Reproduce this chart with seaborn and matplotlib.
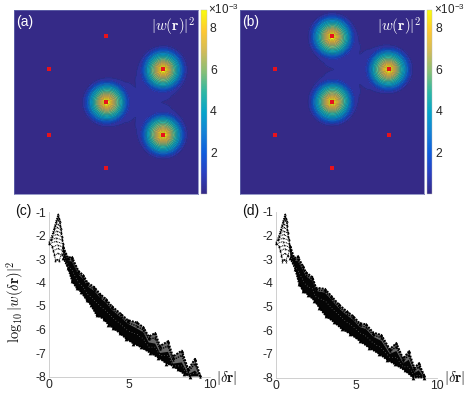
import numpy as np
import pandas as pd
import matplotlib
matplotlib.use("Agg")
import matplotlib.pyplot as plt
from matplotlib.colors import LinearSegmentedColormap, Normalize
from matplotlib.cm import ScalarMappable
import seaborn as sns

# ---------- data ----------
# lattice sites (hexagon plus centre, in units of the hexagon radius)
site_x = [0, 0.866, 0.866, 0, -0.866, -0.866, 0]
site_y = [0, 0.5, -0.5, 1, 0.5, -0.5, -1]
peaks_a = [0, 1, 2]          # sites carrying a lobe in (a)
peaks_b = [0, 1, 3]          # sites carrying a lobe in (b)
# amplitude of one lobe against distance from its site
lobe_dist = [0, 0.03, 0.06, 0.10, 0.15, 0.20, 0.25, 0.29, 0.32, 0.34, 0.36, 0.386, 0.42, 0.50, 0.577, 0.70, 0.866, 1.2]
lobe_amp = [0.094, 0.092, 0.088, 0.082, 0.074, 0.067, 0.058, 0.046, 0.034, 0.025, 0.0195, 0.0155, 0.012, 0.0088, 0.0076, 0.0045, 0.002, 0.0]
contour_levels = [0, 0.0004, 0.0009, 0.0013, 0.0017, 0.0021, 0.0026, 0.003, 0.0034, 0.0038, 0.0042,
                  0.0046, 0.005, 0.0054, 0.0058, 0.0062, 0.0066, 0.007, 0.0074, 0.0078, 0.0082, 0.0086, 0.0095]
cbar_ticks = [0.002, 0.004, 0.006, 0.008]
cbar_ticklabels = ["2", "4", "6", "8"]
color_max = 0.00883

# first peak: rows of points (left end, right end)
row_y = [-1.25, -1.4, -1.55, -1.7, -1.85, -2.0, -2.15, -2.3, -2.45, -2.6, -2.8, -3.05]
row_left_c = [0.52, 0.45, 0.39, 0.33, 0.27, 0.2, 0.12, 0.02, 0.2, 0.27, 0.35, 0.42]
row_right_c = [0.64, 0.68, 0.71, 0.74, 0.77, 0.8, 0.83, 0.87, 0.9, 0.88, 0.8, 0.65]
row_left_d = [0.52, 0.45, 0.39, 0.33, 0.27, 0.2, 0.12, 0.02, 0.2, 0.27, 0.35, 0.42]
row_right_d = [0.63, 0.67, 0.7, 0.72, 0.74, 0.78, 0.81, 0.85, 0.87, 0.86, 0.78, 0.62]

# upper saw-tooth of the cloud and nested traces beneath it
hi_r_c = [0.9, 1.2, 1.43, 1.84, 2.15, 2.4, 2.83, 3.2, 3.55, 3.9, 4.5, 4.9, 5.45, 5.87, 6.2, 6.6, 6.9, 7.4, 7.7, 8.25, 8.65, 9.07, 9.38]
hi_y_c = [-2.5, -2.95, -2.9, -3.5, -3.7, -4.0, -4.2, -4.5, -4.7, -5.0, -5.35, -5.6, -5.7, -5.9, -6.3, -6.15, -6.7, -6.5, -7.15, -6.9, -7.7, -7.25, -7.95]
m1_y_c = [-2.6, -3.02, -3.02, -3.6, -3.8, -4.1, -4.3, -4.6, -4.8, -5.1, -5.45, -5.7, -5.85, -6.02, -6.42, -6.35, -6.85, -6.7, -7.3, -7.1, -7.8, -7.45, -8.0]
m2_y_c = [-2.65, -3.08, -3.1, -3.66, -3.86, -4.16, -4.36, -4.66, -4.86, -5.15, -5.5, -5.75, -5.95, -6.12, -6.55, -6.6, -7.0, -6.95, -7.45, -7.4, -7.9, -7.75, -8.0]
m3_y_c = [-2.85, -3.3, -3.45, -4.0, -4.2, -4.5, -4.75, -5.0, -5.2, -5.45, -5.8, -6.05, -6.2, -6.4, -6.75, -6.75, -7.1, -7.1, -7.55, -7.55, -7.95, -7.85, -8.0]
lo_r_c = [0.9, 1.2, 1.45, 1.74, 2.0, 2.35, 2.6, 2.97, 3.4, 3.7, 4.0, 4.4, 4.8, 5.25, 5.7, 6.3, 6.8, 7.3, 7.7, 8.0, 8.4, 8.76]
lo_y_c = [-2.95, -3.4, -3.95, -4.25, -4.4, -4.75, -4.95, -5.4, -5.55, -5.8, -5.95, -6.15, -6.4, -6.6, -6.75, -7.0, -7.2, -7.45, -7.55, -7.7, -7.9, -8.0]

hi_r_d = [0.9, 1.15, 1.36, 1.7, 1.87, 2.27, 2.5, 3.05, 3.45, 3.9, 4.4, 4.8, 5.2, 5.6, 6.05, 6.55, 7.07, 7.48, 7.9, 8.25, 8.6, 8.87, 9.2]
hi_y_d = [-2.45, -2.95, -2.88, -3.3, -3.55, -3.75, -4.2, -4.25, -4.55, -4.9, -5.2, -5.4, -5.7, -5.75, -6.1, -6.2, -6.8, -6.55, -7.2, -6.9, -7.6, -7.4, -7.9]
m1_y_d = [-2.55, -3.02, -3.0, -3.42, -3.65, -3.85, -4.28, -4.35, -4.65, -5.0, -5.3, -5.5, -5.8, -5.87, -6.2, -6.32, -6.9, -6.7, -7.3, -7.05, -7.7, -7.55, -7.95]
m2_y_d = [-2.6, -3.07, -3.06, -3.48, -3.71, -3.91, -4.34, -4.41, -4.71, -5.06, -5.36, -5.56, -5.86, -5.95, -6.28, -6.45, -7.0, -6.88, -7.4, -7.25, -7.8, -7.7, -8.0]
m3_y_d = [-2.85, -3.3, -3.45, -3.9, -4.1, -4.25, -4.6, -4.75, -5.05, -5.35, -5.65, -5.85, -6.1, -6.25, -6.55, -6.75, -7.15, -7.15, -7.55, -7.55, -7.95, -7.9, -8.0]
lo_r_d = [0.9, 1.2, 1.45, 1.7, 2.0, 2.4, 2.7, 3.1, 3.6, 4.1, 4.6, 5.2, 5.8, 6.4, 6.9, 7.4, 8.0, 8.5, 9.2]
lo_y_d = [-2.95, -3.4, -4.05, -4.35, -4.5, -4.75, -5.05, -5.4, -5.65, -5.95, -6.15, -6.45, -6.75, -7.0, -7.25, -7.45, -7.7, -8.0, -8.0]

# ---------- styling ----------
sns.set_theme(style="white", rc={"axes.unicode_minus": False})
plt.rcParams["font.family"] = ["Liberation Sans", "DejaVu Sans"]
plt.rcParams["mathtext.fontset"] = "cm"
parula = LinearSegmentedColormap.from_list("parula", [
    "#352a87", "#2b3fc0", "#0f5cdd", "#1481d6", "#06a4ca", "#2eb7a4",
    "#87bf77", "#d1bb59", "#fec832", "#f9fb0e"])
W, H = 465, 397
fig = plt.figure(figsize=(W / 100, H / 100), dpi=100, facecolor="white")


def px_axes(x0, x1, y0, y1):
    return fig.add_axes([x0 / W, 1 - y1 / H, (x1 - x0) / W, (y1 - y0) / H])


def field_panel(box, cbox, peaks, label):
    ax = px_axes(*box)
    lim = 1.395
    g = np.linspace(-lim, lim, 401)
    X, Y = np.meshgrid(g, g)
    amp = sum(np.interp(np.hypot(X - site_x[i], Y - site_y[i]), lobe_dist, lobe_amp) for i in peaks)
    Z = amp ** 2
    norm = Normalize(0, color_max)
    # each band takes the colour of its lower contour level
    band_colors = [parula(norm(v)) for v in contour_levels[:-1]]
    ax.contourf(X, Y, Z, levels=contour_levels, colors=band_colors)
    ax.contour(X, Y, Z, levels=contour_levels[1:], colors="#10204a", linewidths=0.3, alpha=0.55)
    sites = pd.DataFrame({"x": site_x, "y": site_y})
    sns.scatterplot(data=sites, x="x", y="y", ax=ax, color="#e8121c", s=6, marker="s",
                    linewidth=0, legend=False, zorder=5)
    ax.set_xlim(-lim, lim)
    ax.set_ylim(-lim, lim)
    ax.set_xticks([])
    ax.set_yticks([])
    ax.set_xlabel("")
    ax.set_ylabel("")
    for s in ax.spines.values():
        s.set_color("#6a70b0")
        s.set_linewidth(0.5)
    ax.text(0.01, 0.975, label, transform=ax.transAxes, color="white", fontsize=10, va="top", ha="left")
    ax.text(0.985, 0.97, r"$|w(\mathbf{r})|^2$", transform=ax.transAxes, color="white",
            fontsize=10.8, va="top", ha="right")
    cax = px_axes(*cbox)
    cb = fig.colorbar(ScalarMappable(norm=norm, cmap=parula), cax=cax)
    cb.set_ticks(cbar_ticks)
    cb.set_ticklabels(cbar_ticklabels)
    cb.ax.tick_params(length=0, labelsize=8.8, labelcolor="#262626", pad=2.5)
    cb.outline.set_linewidth(0.3)
    cb.outline.set_edgecolor("#bbbbbb")
    fig.text((cbox[0] + 7) / W, 1 - 10 / H, "×10$^{\\mathregular{-3}}$", fontsize=8.4, color="#262626",
             va="center", ha="left")


def draw_trace(ax, r, y, lw=0.6, ls=":", size=1.6, marker="^", color="black", z=3):
    df = pd.DataFrame({"r": r, "y": y})
    sns.lineplot(data=df, x="r", y="y", ax=ax, color=color, linewidth=lw, linestyle=ls,
                 sort=False, estimator=None, legend=False, clip_on=False, zorder=z)
    if size:
        sns.scatterplot(data=df, x="r", y="y", ax=ax, color=color, s=size, linewidth=0, marker=marker,
                        legend=False, clip_on=False, zorder=z)


def cloud_panel(box, label, label_x, rl, rr, hr, hy, m1, m2, m3, lr, ly, dr_x, ylab):
    ax = px_axes(*box)
    # grey stippled lobes above the dark core of the cloud
    ax.fill(np.array(hr + lr[::-1]), np.array(hy + ly[::-1]), color="#6a6a6a", lw=0, zorder=1.5, clip_on=False)
    # dark core, between the second nested trace and the lower edge
    ax.fill(np.array(hr + lr[::-1]), np.array(m2 + ly[::-1]), color="#050505", lw=0, zorder=2, clip_on=False)
    draw_trace(ax, hr, hy, lw=1.4, ls=(0, (1, 0.6)), size=6)
    draw_trace(ax, hr, m1, lw=1.0, ls=(0, (1, 0.7)), size=3)
    draw_trace(ax, hr, m3, lw=0.35, ls=(0, (1, 5)), size=0, color="white", z=4)
    draw_trace(ax, lr, ly, lw=1.2, ls=(0, (1, 0.6)), size=7)
    # rows across the first peak
    for yv, a, b in zip(row_y, rl, rr):
        draw_trace(ax, [a, 0.5 * (a + b), b], [yv - 0.05, yv + 0.05, yv - 0.05], lw=0.7, ls=(0, (1, 0.8)), size=1.5)
    left_r = rl[7::-1]
    left_y = row_y[7::-1]
    draw_trace(ax, left_r + [0.58] + rr[:9], left_y + [-1.1] + row_y[:9], lw=0.9, ls=(0, (1, 0.8)), size=3)
    draw_trace(ax, rl[7:] + rr[8:][::-1], row_y[7:] + row_y[8:][::-1], lw=0.7, ls=(0, (1, 0.8)), size=2.5)
    ax.set_xlim(0, 10)
    ax.set_ylim(-8, -1)
    ax.set_xticks([0, 5, 10])
    ax.set_yticks([-8, -7, -6, -5, -4, -3, -2, -1])
    ax.set_xticklabels(["0", "5", "10"])
    ax.set_yticklabels(["-8", "-7", "-6", "-5", "-4", "-3", "-2", "-1"])
    ax.tick_params(length=1.5, width=0.4, color="#aaaaaa", direction="in", labelsize=8.8,
                   labelcolor="#262626", pad=2)
    ax.set_xlabel("")
    ax.set_ylabel("")
    ax.patch.set_alpha(0)
    for side in ("top", "right"):
        ax.spines[side].set_visible(False)
    for side in ("left", "bottom"):
        ax.spines[side].set_color("#c8c8c8")
        ax.spines[side].set_linewidth(0.6)
    fig.text(label_x / W, 1 - 211 / H, label, fontsize=10, color="#111111", va="center", ha="left")
    fig.text(dr_x / W, 1 - 378 / H, r"$|\delta\mathbf{r}|$", fontsize=10.5, color="#111111", va="center", ha="left")
    if ylab:
        fig.text(15 / W, 1 - 302 / H, r"$\log_{10}|w(\delta\mathbf{r})|^2$", fontsize=10.5,
                 color="#111111", rotation=90, va="center", ha="center")


field_panel((14, 198.3, 10.3, 194.3), (200.5, 206.5, 10.3, 194.3), peaks_a, "(a)")
field_panel((240, 424, 10.3, 194.3), (427.3, 432.3, 10.3, 194.3), peaks_b, "(b)")
cloud_panel((48.7, 210, 212, 376.5), "(c)", 15, row_left_c, row_right_c, hi_r_c, hi_y_c, m1_y_c, m2_y_c, m3_y_c,
            lo_r_c, lo_y_c, 216, True)
cloud_panel((275.7, 437, 212, 377.5), "(d)", 242, row_left_d, row_right_d, hi_r_d, hi_y_d, m1_y_d, m2_y_d, m3_y_d,
            lo_r_d, lo_y_d, 444, False)

fig.savefig("out.png", dpi=100)
